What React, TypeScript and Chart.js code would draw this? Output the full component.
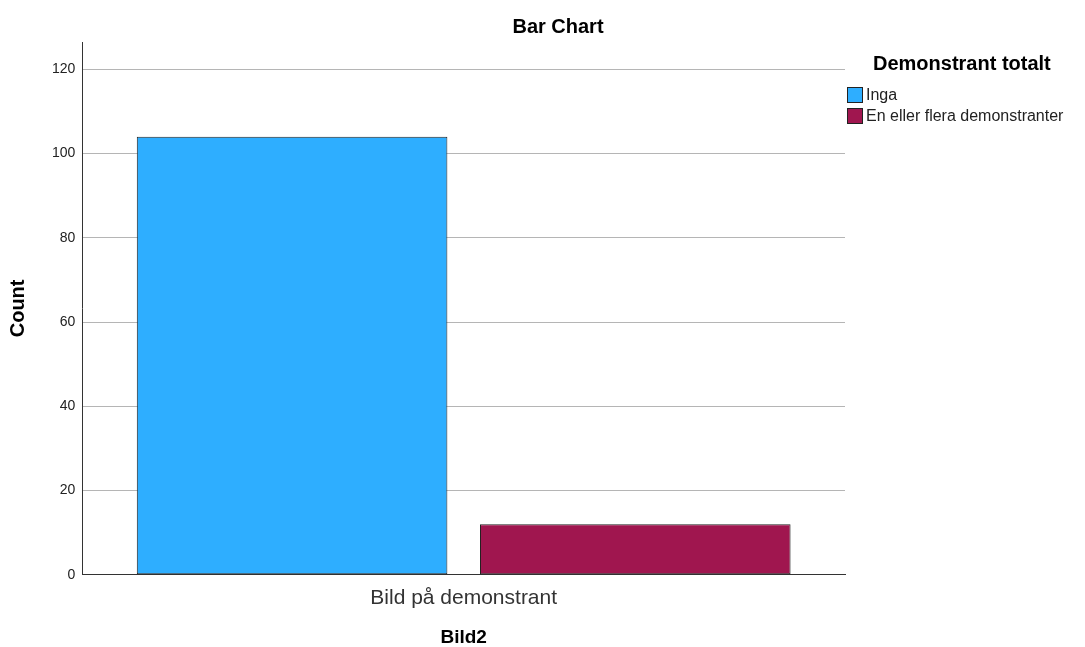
import React, { useEffect, useRef } from "react";
import { Chart, registerables } from "chart.js";

Chart.register(...registerables);

const categories = ["Bild på demonstrant"];
const seriesNames = ["Inga", "En eller flera demonstranter"];
const ingaValues = [104];
const flerValues = [12];
const seriesColors = ["#2eaeff", "#a0164f"];
const yTickStep = 20;
const yMax = 126.5;
const chartTitle = "Bar Chart";
const legendTitle = "Demonstrant totalt";

const FONT = '"Liberation Sans", Arial, Helvetica, sans-serif';

const decorPlugin = {
  id: "decor",
  afterDraw(chart: any) {
    const { ctx, chartArea } = chart;
    const x0 = chartArea.right;
    ctx.save();
    // chart title
    ctx.fillStyle = "#000";
    ctx.font = `bold 20px ${FONT}`;
    ctx.textAlign = "center";
    ctx.textBaseline = "middle";
    ctx.fillText(chartTitle, 558, 27);
    // legend
    ctx.textAlign = "left";
    ctx.fillText(legendTitle, x0 + 28, 64);
    ctx.font = `16px ${FONT}`;
    seriesNames.forEach((name, i) => {
      const by = 87 + i * 21;
      ctx.fillStyle = seriesColors[i];
      ctx.fillRect(x0 + 2, by, 16, 16);
      ctx.strokeStyle = "#222";
      ctx.lineWidth = 1;
      ctx.strokeRect(x0 + 2.5, by + 0.5, 15, 15);
      ctx.fillStyle = "#222";
      ctx.fillText(name, x0 + 21, by + 9);
    });
    ctx.restore();
  },
};

export default function App() {
  const ref = useRef<HTMLCanvasElement>(null);
  useEffect(() => {
    if (!ref.current) return;
    Chart.defaults.font.family = FONT;
    const chart = new Chart(ref.current, {
      type: "bar",
      data: {
        labels: categories,
        datasets: [
          {
            label: seriesNames[0],
            data: ingaValues,
            backgroundColor: seriesColors[0],
            borderColor: "#222",
            borderWidth: 1,
            borderSkipped: false,
          },
          {
            label: seriesNames[1],
            data: flerValues,
            backgroundColor: seriesColors[1],
            borderColor: "#222",
            borderWidth: 1,
            borderSkipped: false,
          },
        ],
      },
      options: {
        responsive: false,
        animation: false,
        layout: { padding: { left: 0, right: 240, top: 42, bottom: 0 } },
        datasets: { bar: { categoryPercentage: 0.9, barPercentage: 0.905 } },
        plugins: {
          legend: { display: false },
          tooltip: { enabled: false },
          title: { display: false },
        },
        scales: {
          x: {
            grid: { display: false, drawTicks: false },
            border: { display: true, color: "#333", width: 1 },
            ticks: { color: "#333", font: { size: 21 }, padding: 11 },
            title: {
              display: true,
              text: "Bild2",
              color: "#000",
              font: { size: 19, weight: "bold", lineHeight: 1 },
              padding: { top: 6, bottom: 0 },
            },
          },
          y: {
            min: 0,
            max: yMax,
            afterBuildTicks: (scale: any) => {
              scale.ticks = scale.ticks.filter((t: any) => t.value % yTickStep === 0);
            },
            grid: { color: "#b5b5b5", lineWidth: 1, drawTicks: false },
            border: { display: true, color: "#333", width: 1 },
            ticks: { stepSize: yTickStep, color: "#222", font: { size: 14 }, padding: 7 },
            title: {
              display: true,
              text: "Count",
              color: "#000",
              font: { size: 20, weight: "bold", lineHeight: 1 },
              padding: { top: 8, bottom: 17 },
            },
          },
        },
      },
      plugins: [decorPlugin],
    });
    return () => chart.destroy();
  }, []);
  return (
    <div style={{ position: "absolute", left: 0, top: 0, width: 1085, height: 647 }}>
      <canvas ref={ref} width={1085} height={647} style={{ display: "block" }} />
    </div>
  );
}
